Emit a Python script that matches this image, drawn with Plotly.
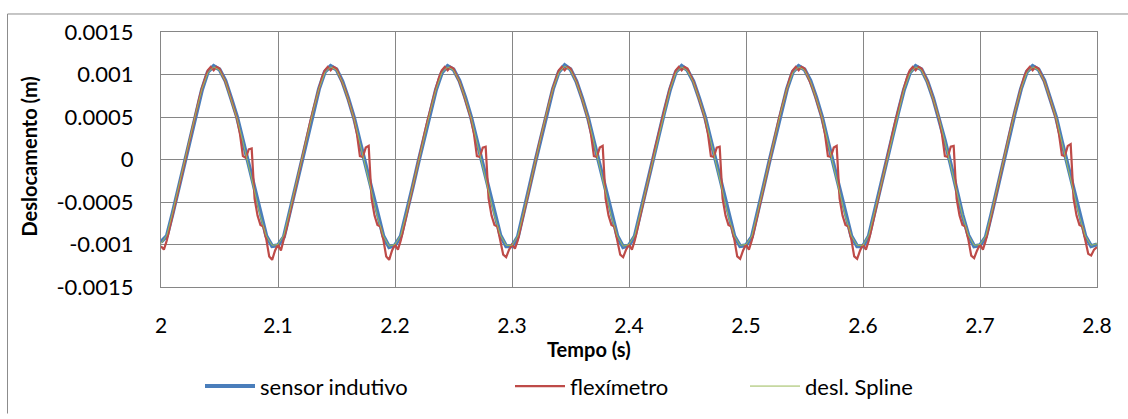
import numpy as np
import plotly.graph_objects as go

# Displacement records, 2.0 s to 2.8 s (values in mm)
# sensor indutivo: sampled every 5 ms
sensor_mm = [
    -0.97, -0.90, -0.63, -0.33, -0.03, 0.26, 0.55, 0.82, 1.03, 1.10, 1.06, 0.93, 0.72, 0.50, 0.22, -0.07, -0.37, -0.66, -0.90, -1.02,
    -1.01, -0.91, -0.62, -0.32, -0.02, 0.27, 0.56, 0.83, 1.03, 1.10, 1.06, 0.92, 0.72, 0.49, 0.21, -0.07, -0.37, -0.66, -0.90, -1.03,
    -1.01, -0.90, -0.63, -0.33, -0.03, 0.26, 0.55, 0.82, 1.02, 1.10, 1.06, 0.93, 0.73, 0.50, 0.22, -0.06, -0.36, -0.65, -0.89, -1.02,
    -1.02, -0.91, -0.63, -0.32, -0.02, 0.27, 0.56, 0.83, 1.03, 1.11, 1.06, 0.92, 0.72, 0.49, 0.21, -0.07, -0.37, -0.66, -0.90, -1.03,
    -1.01, -0.90, -0.62, -0.33, -0.03, 0.26, 0.55, 0.82, 1.03, 1.10, 1.05, 0.92, 0.72, 0.50, 0.22, -0.07, -0.36, -0.66, -0.90, -1.02,
    -1.01, -0.91, -0.63, -0.32, -0.02, 0.27, 0.56, 0.83, 1.03, 1.10, 1.06, 0.93, 0.73, 0.50, 0.21, -0.07, -0.37, -0.66, -0.90, -1.02,
    -1.02, -0.90, -0.62, -0.33, -0.03, 0.26, 0.55, 0.82, 1.02, 1.10, 1.06, 0.92, 0.72, 0.49, 0.22, -0.06, -0.36, -0.65, -0.89, -1.02,
    -1.01, -0.91, -0.63, -0.32, -0.02, 0.27, 0.56, 0.83, 1.03, 1.10, 1.06, 0.93, 0.72, 0.50, 0.21, -0.07, -0.37, -0.66, -0.90, -1.02,
    -1.00,
]

# desl. Spline: sampled every 5 ms
spline_mm = [
    -0.99, -0.89, -0.62, -0.32, -0.02, 0.28, 0.56, 0.83, 1.02, 1.09, 1.05, 0.92, 0.71, 0.48, 0.21, -0.08, -0.38, -0.67, -0.90, -1.01,
    -1.00, -0.89, -0.61, -0.31, -0.01, 0.28, 0.57, 0.83, 1.02, 1.09, 1.05, 0.91, 0.71, 0.48, 0.20, -0.08, -0.38, -0.67, -0.90, -1.02,
    -1.00, -0.89, -0.62, -0.32, -0.02, 0.27, 0.56, 0.82, 1.02, 1.09, 1.05, 0.92, 0.72, 0.49, 0.21, -0.07, -0.37, -0.66, -0.89, -1.01,
    -1.01, -0.90, -0.62, -0.31, -0.01, 0.28, 0.57, 0.83, 1.02, 1.10, 1.05, 0.91, 0.71, 0.48, 0.20, -0.08, -0.38, -0.67, -0.90, -1.02,
    -1.00, -0.89, -0.61, -0.32, -0.02, 0.27, 0.56, 0.82, 1.02, 1.09, 1.04, 0.91, 0.71, 0.49, 0.21, -0.08, -0.37, -0.67, -0.90, -1.01,
    -1.00, -0.90, -0.62, -0.31, -0.01, 0.28, 0.57, 0.83, 1.02, 1.09, 1.05, 0.92, 0.72, 0.49, 0.20, -0.08, -0.38, -0.67, -0.90, -1.01,
    -1.01, -0.89, -0.61, -0.32, -0.02, 0.27, 0.56, 0.82, 1.01, 1.09, 1.05, 0.91, 0.71, 0.48, 0.21, -0.07, -0.37, -0.66, -0.89, -1.01,
    -1.00, -0.90, -0.62, -0.31, -0.01, 0.28, 0.57, 0.83, 1.02, 1.09, 1.05, 0.92, 0.71, 0.49, 0.20, -0.08, -0.38, -0.67, -0.90, -1.01,
    -0.99,
]

# flexímetro: sampled every 2.5 ms
flex_mm = [
    -1.02, -1.06, -0.95, -0.80, -0.64, -0.48, -0.32, -0.17, -0.02, 0.14, 0.29, 0.44, 0.58, 0.71, 0.84, 0.96, 1.05, 1.09, 1.05, 1.09,
    1.07, 0.99, 0.92, 0.82, 0.71, 0.60, 0.48, 0.30, 0.04, 0.02, 0.12, 0.13, -0.46, -0.66, -0.77, -0.79, -0.94, -1.14, -1.18, -1.07,
    -1.00, -1.07, -0.95, -0.80, -0.64, -0.48, -0.32, -0.17, -0.02, 0.14, 0.29, 0.44, 0.58, 0.71, 0.84, 0.96, 1.05, 1.09, 1.05, 1.09,
    1.07, 0.99, 0.92, 0.82, 0.71, 0.60, 0.48, 0.30, 0.04, 0.03, 0.14, 0.16, -0.46, -0.66, -0.77, -0.79, -0.94, -1.14, -1.18, -1.07,
    -1.00, -1.06, -0.95, -0.80, -0.64, -0.48, -0.32, -0.17, -0.02, 0.14, 0.29, 0.44, 0.58, 0.71, 0.84, 0.96, 1.05, 1.09, 1.05, 1.09,
    1.07, 0.99, 0.92, 0.82, 0.71, 0.60, 0.48, 0.30, 0.04, 0.03, 0.14, 0.15, -0.46, -0.66, -0.77, -0.79, -0.94, -1.12, -1.15, -1.06,
    -1.00, -1.05, -0.95, -0.80, -0.64, -0.48, -0.32, -0.17, -0.02, 0.14, 0.29, 0.44, 0.58, 0.71, 0.84, 0.96, 1.05, 1.09, 1.05, 1.09,
    1.07, 0.99, 0.92, 0.82, 0.71, 0.60, 0.48, 0.30, 0.04, 0.03, 0.14, 0.16, -0.46, -0.66, -0.77, -0.79, -0.94, -1.12, -1.15, -1.06,
    -1.00, -1.06, -0.95, -0.80, -0.64, -0.48, -0.32, -0.17, -0.02, 0.14, 0.29, 0.44, 0.58, 0.71, 0.84, 0.96, 1.05, 1.09, 1.05, 1.09,
    1.07, 0.99, 0.92, 0.82, 0.71, 0.60, 0.48, 0.30, 0.04, 0.03, 0.14, 0.15, -0.46, -0.66, -0.77, -0.79, -0.94, -1.14, -1.17, -1.07,
    -1.00, -1.06, -0.95, -0.80, -0.64, -0.48, -0.32, -0.17, -0.02, 0.14, 0.29, 0.44, 0.58, 0.71, 0.84, 0.96, 1.05, 1.09, 1.05, 1.09,
    1.07, 0.99, 0.92, 0.82, 0.71, 0.60, 0.48, 0.30, 0.04, 0.03, 0.14, 0.16, -0.46, -0.66, -0.77, -0.79, -0.94, -1.14, -1.17, -1.07,
    -1.00, -1.06, -0.95, -0.80, -0.64, -0.48, -0.32, -0.17, -0.02, 0.14, 0.29, 0.44, 0.58, 0.71, 0.84, 0.96, 1.05, 1.09, 1.05, 1.09,
    1.07, 0.99, 0.92, 0.82, 0.71, 0.60, 0.48, 0.30, 0.04, 0.03, 0.15, 0.16, -0.46, -0.66, -0.77, -0.79, -0.94, -1.13, -1.16, -1.07,
    -1.00, -1.06, -0.95, -0.80, -0.64, -0.48, -0.32, -0.17, -0.02, 0.14, 0.29, 0.44, 0.58, 0.71, 0.84, 0.96, 1.05, 1.09, 1.05, 1.09,
    1.07, 0.99, 0.92, 0.82, 0.71, 0.60, 0.48, 0.30, 0.05, 0.04, 0.16, 0.18, -0.46, -0.66, -0.77, -0.79, -0.94, -1.11, -1.13, -1.06,
    -1.03,
]

x_ticks = [2.0, 2.1, 2.2, 2.3, 2.4, 2.5, 2.6, 2.7, 2.8]
x_ticklabels = ["2", "2.1", "2.2", "2.3", "2.4", "2.5", "2.6", "2.7", "2.8"]
y_ticks = [-0.0015, -0.001, -0.0005, 0, 0.0005, 0.001, 0.0015]
y_ticklabels = ["-0.0015", "-0.001", "-0.0005", "0", "0.0005", "0.001", "0.0015"]

t_5ms = np.round(2.0 + 0.005 * np.arange(len(sensor_mm)), 4)
t_25ms = np.round(2.0 + 0.0025 * np.arange(len(flex_mm)), 5)

sensor_m = np.array(sensor_mm) / 1000.0
spline_m = np.array(spline_mm) / 1000.0
flex_m = np.array(flex_mm) / 1000.0

# page geometry (pixels)
W, H = 1128, 419
ML, MR, MT, MB = 161, 31, 32, 125
PW, PH = W - ML - MR, H - MT - MB


def px(xp):
    return (xp - ML) / PW


def py(yp):
    return (H - MB - yp) / PH


FONT = "Lato, Carlito, Calibri, sans-serif"
GRID = "#868686"

fig = go.Figure()
fig.add_trace(go.Scatter(
    x=t_5ms, y=sensor_m, mode="lines", name="sensor indutivo",
    line=dict(color="#4A7EBB", width=4), legend="legend", showlegend=True,
))
fig.add_trace(go.Scatter(
    x=t_25ms, y=flex_m, mode="lines", name="flexímetro",
    line=dict(color="#BE4B48", width=2.2), legend="legend2", showlegend=True,
))
fig.add_trace(go.Scatter(
    x=t_5ms, y=spline_m, mode="lines", name="desl. Spline",
    line=dict(color="#9BBB59", width=1), legend="legend3", showlegend=True,
))

leg_common = dict(
    orientation="h", yanchor="middle", xanchor="left",
    bgcolor="rgba(0,0,0,0)", borderwidth=0, itemwidth=50,
    font=dict(family=FONT, size=22, color="#000000"),
)
fig.update_layout(
    width=W, height=H,
    showlegend=True,
    margin=dict(l=ML, r=MR, t=MT, b=MB, pad=0),
    paper_bgcolor="#FFFFFF", plot_bgcolor="#FFFFFF",
    font=dict(family=FONT, size=21, color="#000000"),
    legend=dict(x=px(200), y=py(396), **leg_common),
    legend2=dict(x=px(510), y=py(396), **leg_common),
    legend3=dict(x=px(745), y=py(396), **leg_common),
    xaxis=dict(
        range=[2.0, 2.8], tickvals=x_ticks, ticktext=x_ticklabels,
        showgrid=True, gridcolor=GRID, gridwidth=1,
        showline=True, linecolor=GRID, linewidth=1, mirror=True,
        ticks="", ticklabelstandoff=20, zeroline=False,
        tickfont=dict(family=FONT, size=21, color="#000000"),
    ),
    yaxis=dict(
        range=[-0.0015, 0.0015], tickvals=y_ticks, ticktext=y_ticklabels,
        showgrid=True, gridcolor=GRID, gridwidth=1,
        showline=True, linecolor=GRID, linewidth=1, mirror=True,
        ticks="", ticklabelstandoff=22, zeroline=False,
        tickfont=dict(family=FONT, size=22, color="#000000"),
    ),
    annotations=[
        dict(text="<b>Deslocamento (m)</b>", textangle=-90,
             xref="paper", yref="paper", x=px(29), y=py(160),
             xanchor="center", yanchor="middle", showarrow=False,
             font=dict(family=FONT, size=20, color="#000000")),
        dict(text="<b>Tempo (s)</b>",
             xref="paper", yref="paper", x=px(589), y=py(358),
             xanchor="center", yanchor="middle", showarrow=False,
             font=dict(family=FONT, size=20, color="#000000")),
    ],
    shapes=[
        # chart-area frame (left and top edges)
        dict(type="line", xref="paper", yref="paper",
             x0=px(7.5), x1=px(7.5), y0=py(13.5), y1=py(H + 5),
             line=dict(color="#8C8C8C", width=1)),
        dict(type="line", xref="paper", yref="paper",
             x0=px(7.5), x1=px(W + 5), y0=py(13.5), y1=py(13.5),
             line=dict(color="#8C8C8C", width=1)),
    ],
)

fig.write_html("out.html")
